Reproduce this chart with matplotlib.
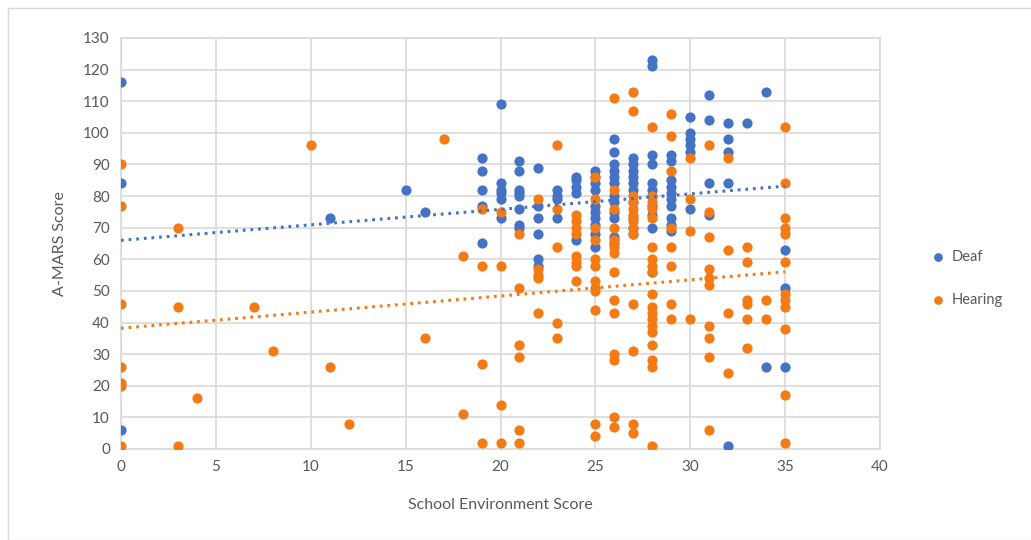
import numpy as np
import matplotlib
matplotlib.use("Agg")
import matplotlib.pyplot as plt
from matplotlib.patches import Rectangle

plt.rcParams['font.family'] = ['Lato', 'DejaVu Sans']

# School environment score -> A-MARS scores, one list per score value
deaf = {
    0: [116, 84, 6],
    11: [73],
    15: [82],
    16: [75],
    19: [92, 88, 82, 77, 65],
    20: [109, 84, 82, 81, 79, 73],
    21: [91, 88, 82, 81, 80, 76, 71, 70],
    22: [89, 77, 73, 68, 60, 58],
    23: [82, 80, 79, 73],
    24: [86, 85, 83, 81, 66],
    25: [88, 86, 84, 82, 77, 75, 73, 71, 68, 64],
    26: [98, 94, 90, 88, 86, 84, 80, 78, 75, 73, 67, 65],
    27: [92, 90, 88, 86, 84, 82, 78, 73, 70, 68],
    28: [123, 121, 93, 90, 84, 82, 80, 77, 74, 70, 56],
    29: [93, 91, 85, 83, 81, 79, 77, 73, 71, 69],
    30: [105, 100, 98, 96, 94, 76],
    31: [112, 104, 84, 74],
    32: [103, 98, 94, 84, 1],
    33: [103],
    34: [113, 26],
    35: [63, 51, 26],
}

hearing = {
    0: [90, 77, 46, 26, 21, 20, 1],
    3: [70, 45, 1],
    4: [16],
    7: [45],
    8: [31],
    10: [96],
    11: [26],
    12: [8],
    16: [35],
    17: [98],
    18: [61, 11],
    19: [76, 58, 27, 2],
    20: [75, 58, 14, 2],
    21: [68, 51, 33, 29, 6, 2],
    22: [79, 57, 55, 54, 43],
    23: [96, 76, 64, 40, 35],
    24: [74, 72, 70, 68, 61, 59, 58, 53],
    25: [86, 79, 70, 66, 60, 58, 53, 51, 50, 44, 8, 4],
    26: [111, 82, 76, 70, 66, 64, 62, 56, 47, 43, 30, 28, 10, 7],
    27: [113, 107, 80, 78, 76, 74, 72, 70, 68, 46, 31, 8, 5],
    28: [102, 80, 78, 76, 73, 64, 60, 58, 56, 49, 45, 43, 41, 39, 37, 33, 28, 26, 1],
    29: [106, 99, 88, 70, 64, 58, 46, 41],
    30: [92, 79, 69, 41],
    31: [96, 75, 67, 57, 54, 52, 39, 35, 29, 6],
    32: [92, 63, 43, 24],
    33: [64, 59, 47, 46, 41, 32],
    34: [47, 41],
    35: [102, 84, 73, 70, 68, 59, 49, 47, 45, 38, 17, 2],
}

# linear trendlines (intercept, slope) over the score range 0..35
deaf_trend = (66.0, 0.49)
hearing_trend = (38.2, 0.51)
trend_range = [0, 35]

x_ticks = [0, 5, 10, 15, 20, 25, 30, 35, 40]
y_ticks = list(range(0, 131, 10))

blue = '#4472C4'
orange = '#F47A14'
grid_col = '#D9D9D9'
text_col = '#595959'


def flatten(d):
    xs, ys = [], []
    for k, vals in d.items():
        xs += [k] * len(vals)
        ys += vals
    return np.array(xs, float), np.array(ys, float)


dx, dy = flatten(deaf)
hx, hy = flatten(hearing)

fig = plt.figure(figsize=(10.31, 5.40), dpi=100)
# outer chart frame
fig.patches.append(Rectangle((8 / 1031, 0), 1.1, 1 - 8 / 540, transform=fig.transFigure,
                             fill=False, edgecolor=grid_col, lw=1))

ax = fig.add_axes([121 / 1031, 1 - 449 / 540, (880 - 121) / 1031, (449 - 38) / 540])

ax.scatter(dx, dy, s=54, color=blue, zorder=3, label='Deaf', linewidths=0)
ax.scatter(hx, hy, s=54, color=orange, zorder=4, label='Hearing', linewidths=0)

xl = np.array(trend_range, float)
for (b, m), c in [(deaf_trend, blue), (hearing_trend, orange)]:
    ax.plot(xl, b + m * xl, color=c, lw=2.2, linestyle=(0, (0.9, 1.6)), zorder=5)

ax.set_xlim(0, 40)
ax.set_ylim(0, 130)
ax.set_xticks(x_ticks)
ax.set_yticks(y_ticks)
ax.grid(True, color=grid_col, lw=1.2, zorder=0)
for sp in ax.spines.values():
    sp.set_color(grid_col)
    sp.set_linewidth(1.2)
ax.tick_params(length=0, labelsize=11, labelcolor=text_col, pad=8)
ax.set_xlabel('School Environment Score', fontsize=11.5, color=text_col, labelpad=17)
ax.set_ylabel('A-MARS Score', fontsize=11.5, color=text_col, labelpad=12)

leg = ax.legend(loc='center left', bbox_to_anchor=(1.04, 0.415), frameon=False,
                fontsize=10.5, labelcolor=text_col, handletextpad=-0.1,
                labelspacing=2.0, markerscale=0.85)

fig.savefig('out.png', dpi=100)
